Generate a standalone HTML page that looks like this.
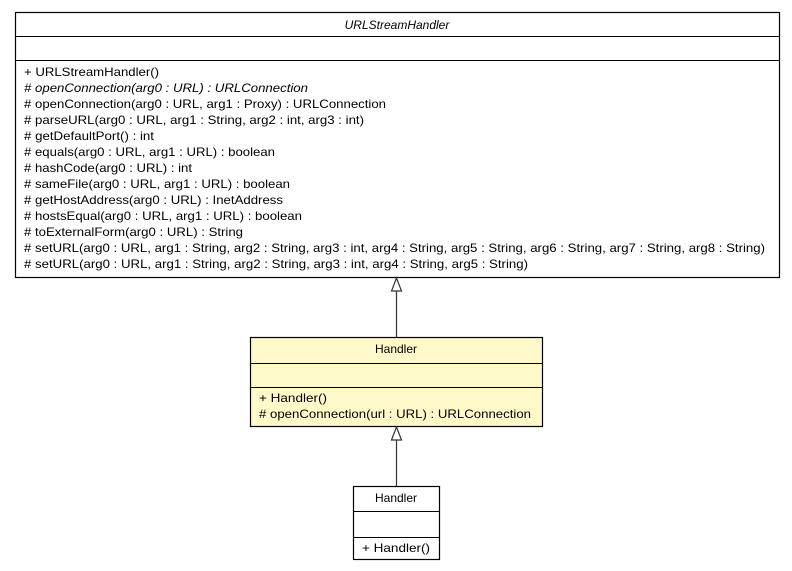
<!DOCTYPE html>
<html><head><meta charset="utf-8"><style>html,body{margin:0;padding:0;background:#fff}svg{display:block}</style></head>
<body>
<svg width="792" height="571" xmlns="http://www.w3.org/2000/svg" font-family="'Liberation Sans', sans-serif" font-size="12" fill="#000">
<rect x="15.5" y="12.5" width="764" height="265" fill="#fff" stroke="#000" stroke-width="1.2"/>
<line x1="15" y1="36.5" x2="780" y2="36.5" stroke="#000"/>
<line x1="15" y1="60.5" x2="780" y2="60.5" stroke="#000"/>
<text x="397" y="29" text-anchor="middle" font-style="italic">URLStreamHandler</text>
<g>
<text x="24" y="76" textLength="135" lengthAdjust="spacingAndGlyphs">+ URLStreamHandler()</text>
<text x="24" y="92" font-style="italic" textLength="284" lengthAdjust="spacingAndGlyphs"># openConnection(arg0 : URL) : URLConnection</text>
<text x="24" y="108" textLength="362" lengthAdjust="spacingAndGlyphs"># openConnection(arg0 : URL, arg1 : Proxy) : URLConnection</text>
<text x="24" y="124" textLength="340" lengthAdjust="spacingAndGlyphs"># parseURL(arg0 : URL, arg1 : String, arg2 : int, arg3 : int)</text>
<text x="24" y="140" textLength="130" lengthAdjust="spacingAndGlyphs"># getDefaultPort() : int</text>
<text x="24" y="156" textLength="251" lengthAdjust="spacingAndGlyphs"># equals(arg0 : URL, arg1 : URL) : boolean</text>
<text x="24" y="172" textLength="168" lengthAdjust="spacingAndGlyphs"># hashCode(arg0 : URL) : int</text>
<text x="24" y="188" textLength="266" lengthAdjust="spacingAndGlyphs"># sameFile(arg0 : URL, arg1 : URL) : boolean</text>
<text x="24" y="204" textLength="259" lengthAdjust="spacingAndGlyphs"># getHostAddress(arg0 : URL) : InetAddress</text>
<text x="24" y="220" textLength="278" lengthAdjust="spacingAndGlyphs"># hostsEqual(arg0 : URL, arg1 : URL) : boolean</text>
<text x="24" y="236" textLength="219" lengthAdjust="spacingAndGlyphs"># toExternalForm(arg0 : URL) : String</text>
<text x="24" y="252" textLength="741" lengthAdjust="spacingAndGlyphs"># setURL(arg0 : URL, arg1 : String, arg2 : String, arg3 : int, arg4 : String, arg5 : String, arg6 : String, arg7 : String, arg8 : String)</text>
<text x="24" y="268" textLength="504" lengthAdjust="spacingAndGlyphs"># setURL(arg0 : URL, arg1 : String, arg2 : String, arg3 : int, arg4 : String, arg5 : String)</text>
</g>
<line x1="396.5" y1="291" x2="396.5" y2="337" stroke="#333" stroke-width="1.2"/>
<polygon points="396.5,278 391.5,291 401.5,291" fill="#fff" stroke="#333" stroke-width="1.2"/>
<rect x="250.5" y="337.5" width="292" height="89" fill="#fff8c8" stroke="#000" stroke-width="1.2"/>
<line x1="250" y1="363.5" x2="543" y2="363.5" stroke="#000"/>
<line x1="250" y1="387.5" x2="543" y2="387.5" stroke="#000"/>
<text x="396" y="353" text-anchor="middle">Handler</text>
<text x="259" y="402" textLength="68" lengthAdjust="spacingAndGlyphs">+ Handler()</text>
<text x="259" y="418" textLength="272" lengthAdjust="spacingAndGlyphs"># openConnection(url : URL) : URLConnection</text>
<line x1="396.5" y1="440" x2="396.5" y2="486" stroke="#333" stroke-width="1.2"/>
<polygon points="396.5,427 391.5,440 401.5,440" fill="#fff" stroke="#333" stroke-width="1.2"/>
<rect x="353.5" y="486.5" width="86" height="73" fill="#fff" stroke="#000" stroke-width="1.2"/>
<line x1="353" y1="511.5" x2="440" y2="511.5" stroke="#000"/>
<line x1="353" y1="537.5" x2="440" y2="537.5" stroke="#000"/>
<text x="396" y="502" text-anchor="middle">Handler</text>
<text x="362" y="552" textLength="68" lengthAdjust="spacingAndGlyphs">+ Handler()</text>
</svg>
</body></html>
